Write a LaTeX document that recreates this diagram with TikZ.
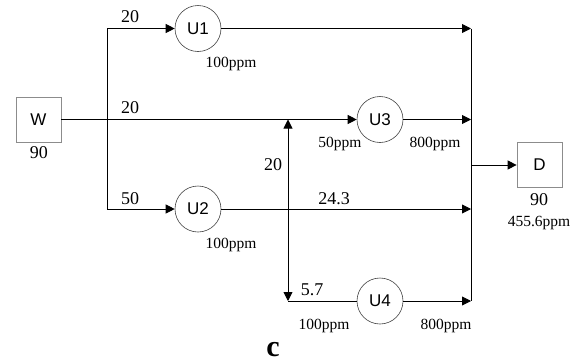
\documentclass[tikz,border=0pt]{standalone}
\usepackage{fontspec}
\setmainfont{Liberation Serif}
\newfontfamily\unitfont{Liberation Sans}
\usetikzlibrary{arrows.meta}

\tikzset{
  flow/.style={line width=0.9pt, draw=black},
  arr/.style={flow, -{Triangle[length=9pt,width=9pt]}},
  darr/.style={flow, {Triangle[length=9pt,width=9pt]}-{Triangle[length=9pt,width=9pt]}},
  unit/.style={circle, draw=black!75, line width=0.6pt, fill=white,
    minimum size=46pt, inner sep=0pt, font=\unitfont\fontsize{17}{17}\selectfont},
  tank/.style={rectangle, draw=black!45, line width=0.7pt, fill=white,
    minimum size=45pt, inner sep=0pt, font=\unitfont\fontsize{17}{17}\selectfont},
  qty/.style={anchor=base, inner sep=0pt, font=\fontsize{18}{18}\selectfont},
  conc/.style={anchor=base, inner sep=0pt, font=\fontsize{15.5}{15.5}\selectfont},
}

\begin{document}
\begin{tikzpicture}[x=1pt, y=-1pt]
  \useasboundingbox (0,0) rectangle (579,362);

  % source, sink and units
  \node[tank] (W) at (38.5,119.5) {W};
  \node[tank] (D) at (539.5,165) {D};
  \node[unit] (U1) at (198,28.5) {U1};
  \node[unit] (U2) at (198,209) {U2};
  \node[unit] (U3) at (380,119.5) {U3};
  \node[unit] (U4) at (380,301) {U4};

  % branch points and mixer inlets
  \coordinate (jW) at (107,119.5);
  \coordinate (s3) at (288,119.5);
  \coordinate (s4) at (288,301);
  \coordinate (m1) at (471,28.5);
  \coordinate (m3) at (471,119.5);
  \coordinate (m2) at (471,209);
  \coordinate (m4) at (471,301);
  \coordinate (mD) at (471,165);

  % fresh water distribution
  \draw[arr] (W) -- (U3);
  \draw[arr] (jW) |- (U1);
  \draw[arr] (jW) |- (U2);

  % reuse from U2 to U3 and U4
  \draw[darr] (s3) -- (s4);
  \draw[flow] (s4) -- (U4);

  % unit outlets to the mixer
  \draw[arr] (U1) -- (m1);
  \draw[arr] (U3) -- (m3);
  \draw[arr] (U2) -- (m2);
  \draw[arr] (U4) -- (m4);
  \draw[flow] (m1) -- (m4);
  \draw[arr] (mD) -- (D);

  % flow rates
  \node[qty] (f1) at (130,22) {20};
  \node[qty] (f3) at (130,113) {20};
  \node[qty] (f2) at (130,204) {50};
  \node[qty] (fs) at (273,170) {20};
  \node[qty] (fo2) at (334,204) {24.3};
  \node[qty] (f4) at (312,295) {5.7};
  \node[qty] (fW) at (39,158) {90};
  \node[qty] (fD) at (539,205) {90};

  % concentrations
  \node[conc] (c1) at (231,67) {100ppm};
  \node[conc] (c2) at (231,248) {100ppm};
  \node[conc] (c3in) at (340,147) {50ppm};
  \node[conc] (c3out) at (435,147) {800ppm};
  \node[conc] (c4in) at (324,329) {100ppm};
  \node[conc] (c4out) at (446,329) {800ppm};
  \node[conc] (cD) at (539,226) {455.6ppm};

  % panel letter
  \node[anchor=base, inner sep=0pt, font=\bfseries\fontsize{30}{30}\selectfont] (panel) at (273,356) {c};
\end{tikzpicture}
\end{document}
